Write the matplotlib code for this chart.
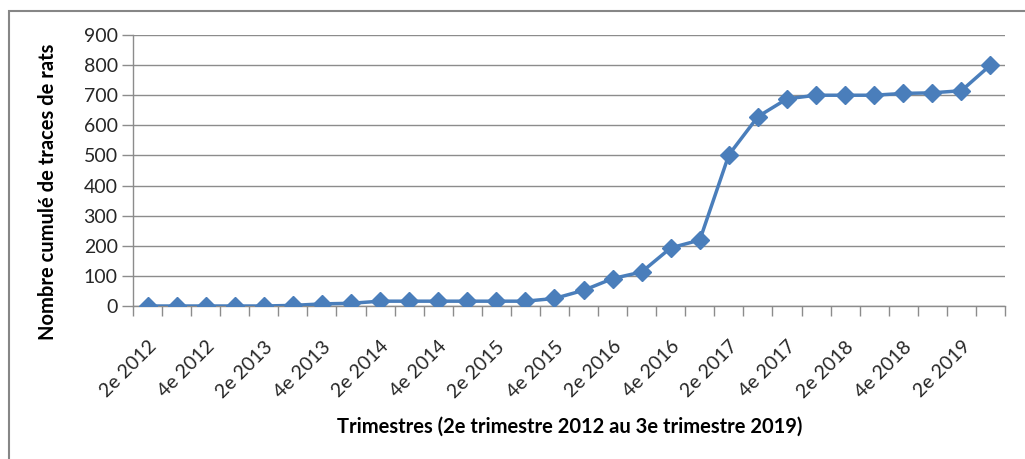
import numpy as np
import matplotlib
matplotlib.use("Agg")
from matplotlib import pyplot as plt
from matplotlib.patches import Rectangle
from matplotlib.ticker import FixedLocator

# quarters from 2e 2012 to 3e 2019
quarters = ["2e 2012", "3e 2012", "4e 2012",
            "1er 2013", "2e 2013", "3e 2013", "4e 2013",
            "1er 2014", "2e 2014", "3e 2014", "4e 2014",
            "1er 2015", "2e 2015", "3e 2015", "4e 2015",
            "1er 2016", "2e 2016", "3e 2016", "4e 2016",
            "1er 2017", "2e 2017", "3e 2017", "4e 2017",
            "1er 2018", "2e 2018", "3e 2018", "4e 2018",
            "1er 2019", "2e 2019", "3e 2019"]
cumul = [0, 0, 0, 0, 0, 2, 7, 9, 16, 16, 16, 16, 16, 16, 25,
         52, 91, 113, 193, 219, 502, 629, 688, 700, 700, 700,
         706, 708, 715, 800]
y_ticks = [0, 100, 200, 300, 400, 500, 600, 700, 800, 900]

plt.rcParams['font.family'] = ['Lato', 'DejaVu Sans']

fig = plt.figure(figsize=(10.25, 4.59), dpi=100)
ax = fig.add_axes([133 / 1025, 1 - 306 / 459, (1005 - 133) / 1025, (306 - 35) / 459])

# outer chart border
fig.patches.append(Rectangle((8.5 / 1025, -0.1), 1.1, 1.1 - 11.5 / 459,
                             transform=fig.transFigure, fill=False,
                             edgecolor='#868686', linewidth=1.5))

x = np.arange(len(quarters))
ax.plot(x, cumul, color='#4A7EBB', linewidth=2.5, marker='D', markersize=9.5,
        markerfacecolor='#4A7EBB', markeredgecolor='#4A7EBB', zorder=3)

ax.set_xlim(-0.5, len(quarters) - 0.5)
ax.set_ylim(0, 900)
ax.set_yticks(y_ticks)
ax.yaxis.grid(True, color='#8C8C8C', linewidth=1)
ax.set_axisbelow(True)

ax.set_xticks(x[::2])
ax.set_xticklabels(quarters[::2], rotation=45, ha='right', va='top',
                   rotation_mode='anchor', fontsize=14, color='#262626')
ax.xaxis.set_minor_locator(FixedLocator(np.arange(-0.5, len(quarters), 1)))
ax.tick_params(axis='x', which='major', length=0, pad=23)
ax.tick_params(axis='x', which='minor', length=7, color='#8C8C8C', width=1)
ax.tick_params(axis='y', length=8, color='#8C8C8C', width=1, labelsize=14,
               labelcolor='#262626', pad=3)

for s in ['top', 'right']:
    ax.spines[s].set_visible(False)
for s in ['left', 'bottom']:
    ax.spines[s].set_color('#8C8C8C')
    ax.spines[s].set_linewidth(1)

ax.set_ylabel("Nombre cumulé de traces de rats", fontsize=14.5, fontweight='bold')
ax.yaxis.set_label_coords(-75 / 872, 0.5 - 21 / 271)
fig.text(570 / 1025, 1 - 427 / 459, "Trimestres (2e trimestre 2012 au 3e trimestre 2019)",
         fontsize=14.5, fontweight='bold', ha='center', va='center')

fig.savefig("out.png", dpi=100)
